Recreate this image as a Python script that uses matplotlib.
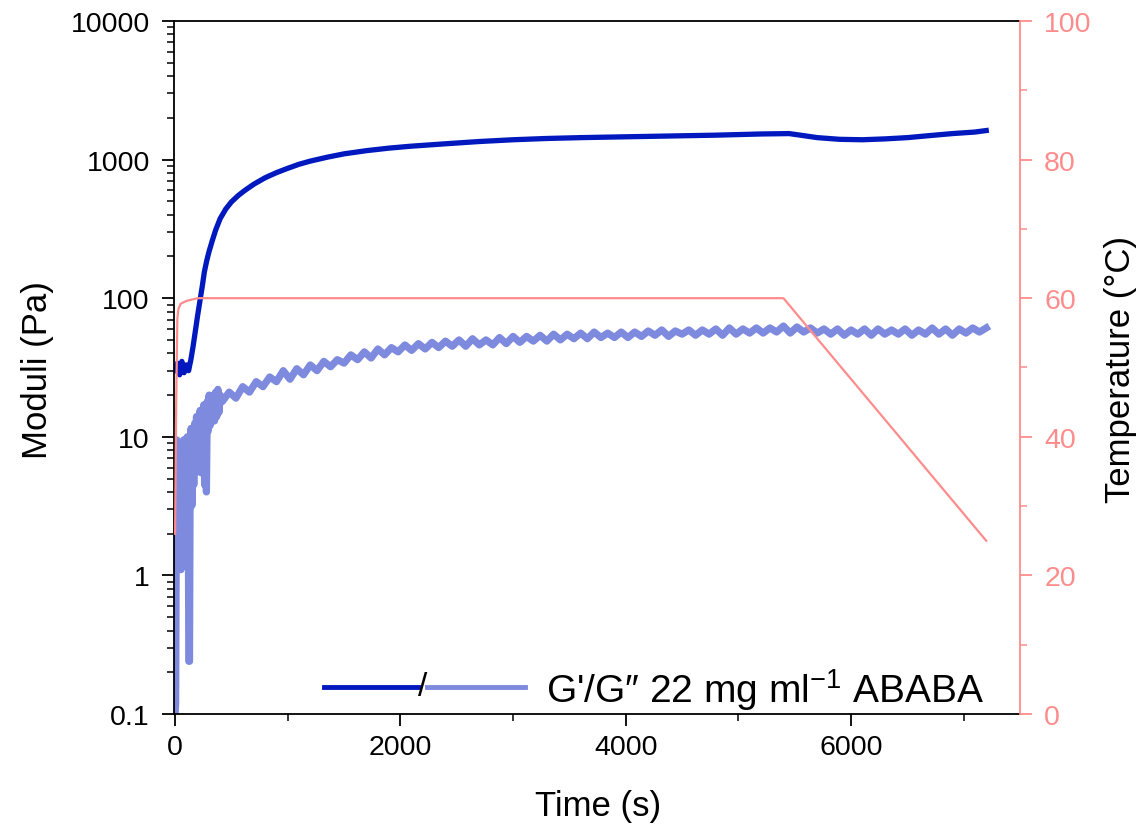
import matplotlib.pyplot as plt
from matplotlib.lines import Line2D
from matplotlib.ticker import FuncFormatter, NullFormatter, LogLocator, MultipleLocator

plt.rcParams['font.family'] = ['Liberation Sans', 'DejaVu Sans']
plt.rcParams['mathtext.fontset'] = 'custom'
plt.rcParams['mathtext.rm'] = 'Liberation Sans'
plt.rcParams['mathtext.default'] = 'regular'

# storage modulus G' (Pa)
t_g1 = [0, 20, 40, 60, 80, 100, 120, 140, 160, 180, 200, 220, 240, 260, 280, 300,
        330, 360, 400, 450, 500, 560, 620, 700, 800, 900, 1000, 1100, 1200, 1350,
        1500, 1700, 1900, 2100, 2400, 2700, 3000, 3300, 3600, 4000, 4400, 4800,
        5200, 5450, 5550, 5700, 5900, 6100, 6300, 6500, 6700, 6900, 7100, 7200]
g1 = [30, 34, 28, 35, 29, 33, 30, 36, 45, 58, 75, 95, 120, 155, 185, 215,
      260, 310, 375, 440, 495, 550, 600, 665, 740, 805, 865, 925, 975, 1040,
      1100, 1160, 1210, 1250, 1300, 1350, 1390, 1420, 1440, 1460, 1480, 1500,
      1530, 1540, 1500, 1440, 1400, 1390, 1410, 1440, 1490, 1540, 1580, 1620]

# loss modulus G'' (Pa), first minutes
t_g2_early = [0, 5, 10, 15, 22, 30, 38, 45, 52, 60, 68, 76, 84, 92, 100, 108, 116,
              122, 128, 134, 142, 150, 158, 166, 174, 182, 190, 198, 206, 214, 222,
              230, 238, 246, 254, 262, 270, 278, 286, 294, 302, 310, 320, 330, 340,
              350, 360, 370, 380, 390, 400]
g2_early = [0.1, 0.12, 1.5, 9.5, 1.2, 8.0, 3.0, 9.0, 1.1, 7.5, 2.5, 9.5, 4.0, 8.0,
            2.8, 10.0, 5.0, 0.24, 0.24, 6.0, 11.5, 3.2, 9.0, 4.5, 12.5, 5.5, 14.0,
            6.0, 13.0, 7.0, 15.5, 5.5, 14.0, 8.5, 17.0, 4.5, 16.0, 4.0, 18.0, 11.0,
            20.0, 12.0, 19.0, 13.0, 20.0, 13.0, 21.0, 14.0, 22.0, 15.0, 20.0]

# loss modulus G'' (Pa), one point per minute afterwards
t_g2_late = list(range(420, 7201, 60))
g2_late = [18, 21, 19, 23, 21, 25, 23, 27, 25, 30,
           26, 31, 28, 33, 30, 35, 32, 36, 34, 39,
           36, 41, 37, 43, 39, 44, 41, 46, 42, 47,
           43, 48, 44, 49, 45, 50, 45, 51, 46, 50,
           46, 52, 47, 53, 48, 53, 49, 54, 49, 55,
           50, 55, 51, 56, 51, 57, 52, 56, 52, 57,
           52, 57, 53, 58, 54, 59, 53, 58, 55, 59,
           54, 59, 55, 60, 54, 61, 55, 60, 56, 61,
           56, 61, 57, 63, 56, 62, 57, 61, 56, 60,
           55, 60, 54, 59, 55, 60, 54, 60, 55, 59,
           55, 60, 54, 59, 55, 61, 55, 60, 54, 60,
           56, 61, 57, 61]

t_g2 = t_g2_early + t_g2_late
g2 = g2_early + g2_late

# temperature (°C)
t_temp = [0, 10, 20, 30, 50, 100, 200, 5400, 7200]
temp = [26, 45, 57, 58.5, 59.2, 59.6, 60, 60, 25]

dark = '#0019be'
light = '#7d8ade'
pink = '#ff8c8c'

fig = plt.figure(figsize=(11.43, 8.29), dpi=100)
ax = fig.add_axes([0.1522, 0.1375, 0.7402, 0.836])

ax.plot(t_g2, g2, color=light, lw=5.2, solid_joinstyle='round')
ax.plot(t_g1, g1, color=dark, lw=3.8)
ax.set_yscale('log')
ax.set_ylim(0.1, 10000)
ax.set_xlim(-10, 7500)

ax.yaxis.set_major_locator(LogLocator(base=10))
ax.yaxis.set_minor_locator(LogLocator(base=10, subs=range(2, 10)))
ax.yaxis.set_major_formatter(FuncFormatter(lambda v, p: f'{v:g}'))
ax.yaxis.set_minor_formatter(NullFormatter())
ax.xaxis.set_major_locator(MultipleLocator(2000))
ax.xaxis.set_minor_locator(MultipleLocator(1000))

for s in ['left', 'bottom', 'top']:
    ax.spines[s].set_linewidth(1.3)
ax.spines['right'].set_visible(False)
ax.tick_params(axis='both', which='major', direction='out', length=8.4, width=1.3,
               labelsize=20.5, colors='black')
ax.tick_params(axis='both', which='minor', direction='out', length=4.8, width=1.1)
ax.tick_params(axis='x', which='both', top=False, pad=6)
ax.tick_params(axis='y', which='both', right=False, pad=9)

ax2 = ax.twinx()
ax2.plot(t_temp, temp, color=pink, lw=1.6)
ax2.set_ylim(0, 100)
ax2.yaxis.set_major_locator(MultipleLocator(20))
ax2.yaxis.set_minor_locator(MultipleLocator(10))
for s in ['left', 'bottom', 'top']:
    ax2.spines[s].set_visible(False)
ax2.spines['right'].set_color(pink)
ax2.spines['right'].set_linewidth(1.3)
ax2.tick_params(axis='y', which='major', direction='out', length=8.4, width=1.3,
                colors=pink, labelsize=20.5, pad=9)
ax2.tick_params(axis='y', which='minor', direction='out', length=4.8, width=1.1,
                colors=pink)

# legend drawn by hand: two line samples separated by a slash
ax.add_line(Line2D([0.177, 0.288], [0.039, 0.039], transform=ax.transAxes,
                   color=dark, lw=3.5))
ax.add_line(Line2D([0.299, 0.415], [0.039, 0.039], transform=ax.transAxes,
                   color=light, lw=3.5))
ax.text(0.2935, 0.039, '/', transform=ax.transAxes, ha='center', va='center',
        fontsize=24)
ax.text(0.4397, 0.0173, 'G\'/G″ 22 mg ml$^{-1}$ ABABA', transform=ax.transAxes,
        ha='left', va='baseline', fontsize=28)

fig.text(0.0324, 0.5537, 'Moduli (Pa)', rotation=90, ha='center', va='center',
         fontsize=25)
fig.text(0.523, 0.027, 'Time (s)', ha='center', va='center', fontsize=25)
fig.text(0.98, 0.5537, 'Temperature (°C)', rotation=90, ha='center', va='center',
         fontsize=25)

fig.savefig('out.png', dpi=100)
